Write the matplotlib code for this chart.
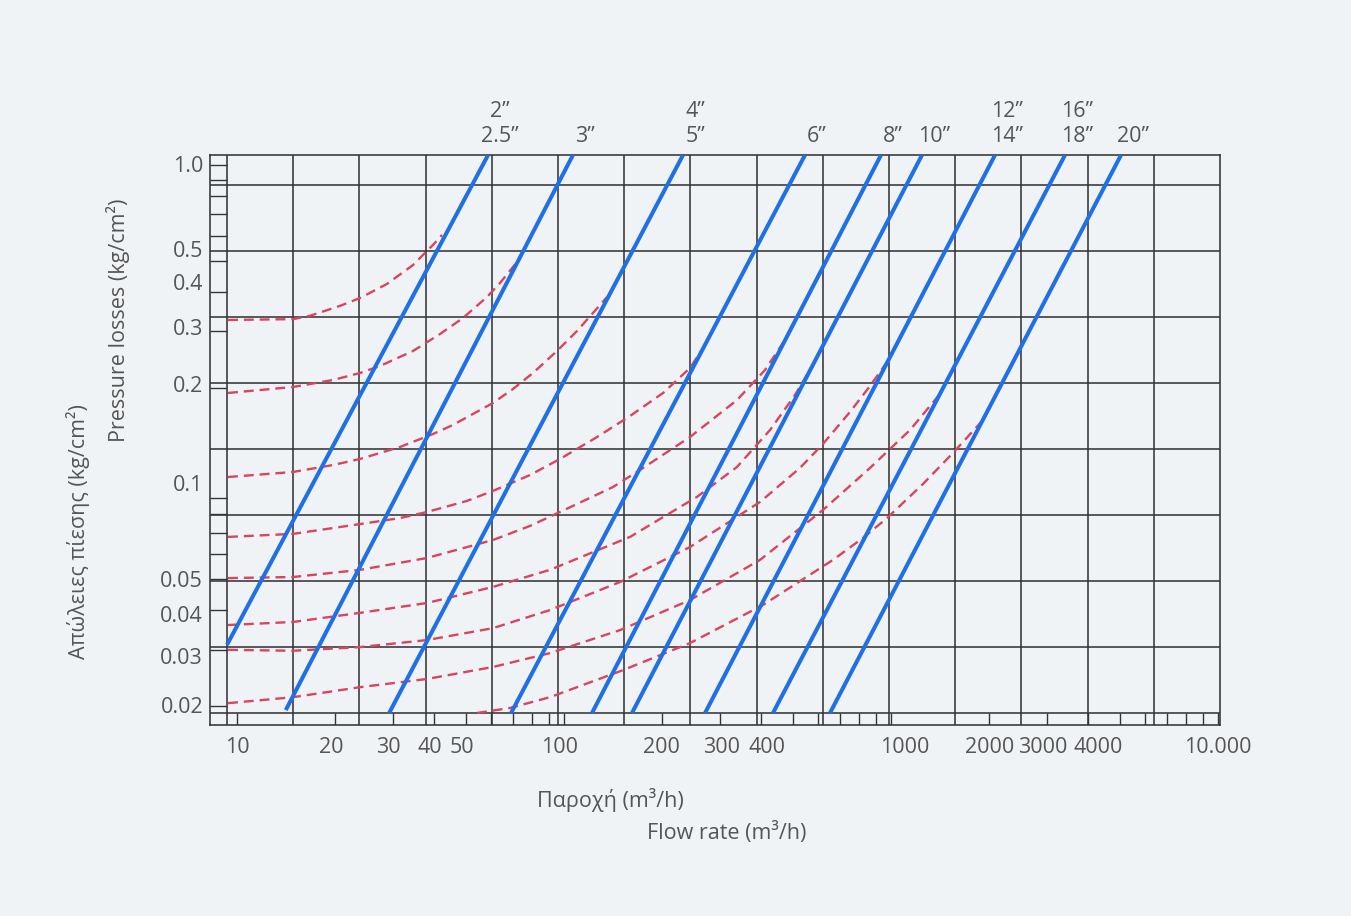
import numpy as np
import matplotlib
matplotlib.use("Agg")
import matplotlib.pyplot as plt

plt.rcParams['font.family'] = ['Open Sans', 'DejaVu Sans']

# pipe diameter lines (flow m3/h, pressure loss kg/cm2) at both ends
pipe_labels = ['2\u201d\n2.5\u201d', '3\u201d', '4\u201d\n5\u201d', '6\u201d', '8\u201d',
               '10\u201d', '12\u201d\n14\u201d', '16\u201d\n18\u201d', '20\u201d']
pipe_q_lo = [9.32, 14.1, 29.2, 68.9, 121.8, 161.4, 270, 435.6, 650.7]
pipe_p_lo = [0.0311, 0.0194, 0.019, 0.019, 0.019, 0.019, 0.019, 0.019, 0.019]
pipe_q_hi = [58.6, 106.5, 231.2, 545.8, 932, 1244, 2080, 3405, 5051]
pipe_p_hi = [1.075, 1.075, 1.075, 1.075, 1.075, 1.075, 1.075, 1.075, 1.075]

# dashed system curves
curve_q = [
    [9.39, 14.84, 16.72, 20.65, 23.78, 28.75, 34.53, 39.76, 42.37],
    [9.39, 14.84, 19.66, 23.78, 27.37, 34.53, 41.77, 49.11, 58.15, 63.74, 71.82, 73.87],
    [9.39, 14.84, 19.66, 23.78, 31.51, 39.76, 45.77, 60.66, 69.82, 80.38, 95.2, 109.6, 128.9, 135.4],
    [9.39, 14.84, 23.78, 31.51, 38.11, 50.51, 60.66, 78.7, 97.2, 126.2, 159.2, 200.9, 242.8, 264.2],
    [9.39, 14.84, 23.78, 38.11, 60.66, 78.7, 97.2, 141.2, 170.8, 242.8, 338.1, 411.9, 467.5],
    [9.39, 14.84, 23.78, 38.11, 60.66, 90.6, 159.2, 255.1, 338.1, 426.6, 508.6, 569.4],
    [9.39, 14.84, 23.78, 38.11, 60.66, 90.6, 148.4, 242.8, 397.6, 526.8, 619.4, 749.1, 862.6, 972.3],
    [9.39, 14.84, 23.78, 38.11, 60.66, 90.6, 148.4, 242.8, 397.6, 619.4, 862.6, 1143, 1412],
    [54.19, 68.37, 90.6, 151.5, 242.8, 406.1, 664.6, 821.1, 972.3, 1253, 1547, 1911],
]
curve_p = [
    [0.326, 0.328, 0.336, 0.361, 0.382, 0.423, 0.485, 0.561, 0.603],
    [0.1923, 0.2008, 0.2112, 0.2222, 0.2337, 0.2605, 0.2945, 0.3307, 0.385, 0.426, 0.4958, 0.5179],
    [0.1047, 0.1086, 0.1142, 0.1193, 0.1301, 0.1429, 0.1526, 0.1789, 0.1979, 0.2222, 0.2605, 0.3011, 0.3633, 0.385],
    [0.0679, 0.0694, 0.0745, 0.0778, 0.0813, 0.0881, 0.0947, 0.1062, 0.1193, 0.1398, 0.1628, 0.1923, 0.2304, 0.2624],
    [0.0504, 0.0508, 0.0535, 0.0583, 0.0664, 0.0735, 0.0813, 0.0974, 0.1102, 0.1398, 0.1827, 0.2271, 0.2761],
    [0.0359, 0.0367, 0.0392, 0.0421, 0.0473, 0.0535, 0.0679, 0.0907, 0.1126, 0.1471, 0.1895, 0.2304],
    [0.0300, 0.0298, 0.0306, 0.0322, 0.0351, 0.0400, 0.0490, 0.0631, 0.0874, 0.1118, 0.1330, 0.1676, 0.2022, 0.2406],
    [0.0204, 0.0213, 0.0229, 0.0243, 0.0265, 0.0293, 0.0346, 0.0430, 0.0575, 0.0825, 0.1118, 0.1471, 0.1909],
    [0.0190, 0.0197, 0.0213, 0.0259, 0.0315, 0.0415, 0.0575, 0.0674, 0.0778, 0.0996, 0.1246, 0.1581],
]

xticks = [10, 20, 30, 40, 50, 100, 200, 300, 400, 1000, 2000, 3000, 4000, 10000]
xtick_labels = ['10', '20', '30', '40', '50', '100', '200', '300', '400',
                '1000', '2000', '3000', '4000', '10.000']
yticks = [1.0, 0.5, 0.4, 0.3, 0.2, 0.1, 0.05, 0.04, 0.03, 0.02]
ytick_labels = ['1.0', '0.5', '0.4', '0.3', '0.2', '0.1', '0.05', '0.04', '0.03', '0.02']

# label nudges in pixels (the printed scale is hand lettered)
x_nudge = [0, -4, -5, -4, -4, -4, -1, 2, 6, 14, 0, -4, 10, 0]
y_nudge = [0, 11, 9, 4, 3, 0, 0, -4, -7, 0]

bg = '#f0f3f6'
ink = '#353535'
txt = '#555555'
fs = 15.5

fig = plt.figure(figsize=(13.51, 9.16), dpi=100, facecolor=bg)
ax = fig.add_axes([210 / 1351, 1 - 725 / 916, 1010 / 1351, 570 / 916])
ax.set_facecolor(bg)
ax.set_xscale('log')
ax.set_yscale('log')
x0, x1 = 8.27, 10140
y0, y1 = 0.01742, 1.075
ax.set_xlim(x0, x1)
ax.set_ylim(y0, y1)

# inner grid edges (left strip / bottom strip)
qg0, pg0 = 9.32, 0.019
for q in np.geomspace(qg0, x1, 16)[:-1]:
    ax.axvline(q, color=ink, lw=1.15, zorder=1)
for p in pg0 * 10 ** (0.2073 * np.arange(9)):
    ax.axhline(p, color=ink, lw=1.15, zorder=1)

# small scale ticks inside the strips
ystrip = [k * 10.0 ** n for n in (-2, -1) for k in range(2, 10)] + [1.0]
ax.hlines(ystrip, x0, qg0, color=ink, lw=1.0, zorder=1)
xstrip = [k * 10.0 ** n for n in (1, 2, 3) for k in range(1, 10)] + [10000]
xstrip = [q for q in xstrip if q > qg0]
ax.vlines(xstrip, y0, pg0, color=ink, lw=1.0, zorder=1)

for q, p in zip(curve_q, curve_p):
    ax.plot(q, p, color='#d9445f', lw=1.7, dashes=(4.2, 2.5), zorder=2)

for lab, qa, pa, qb, pb in zip(pipe_labels, pipe_q_lo, pipe_p_lo, pipe_q_hi, pipe_p_hi):
    ax.plot([qa, qb], [pa, pb], color='#1f6fe6', lw=2.9, solid_capstyle='butt', zorder=3)
    ax.annotate(lab, xy=(qb, y1), xytext=(12, 8), textcoords='offset pixels',
                ha='center', va='bottom', fontsize=fs, color=txt, linespacing=1.22,
                annotation_clip=False)

for s in ax.spines.values():
    s.set_color(ink)
    s.set_linewidth(1.15)

ax.set_xticks([])
ax.set_yticks([])
ax.minorticks_off()
for v, lab, dx in zip(xticks, xtick_labels, x_nudge):
    ax.annotate(lab, xy=(v, y0), xytext=(dx, -12), textcoords='offset pixels',
                ha='center', va='top', fontsize=fs, color=txt, annotation_clip=False)
for v, lab, dy in zip(yticks, ytick_labels, y_nudge):
    ax.annotate(lab, xy=(x0, v), xytext=(-7, dy - 2), textcoords='offset pixels',
                ha='right', va='center', fontsize=fs, color=txt, annotation_clip=False)

fig.text(78 / 1351, 1 - 532 / 916, 'Απώλειες πίεσης (kg/cm²)', rotation=90,
         ha='center', va='center', fontsize=fs, color=txt)
fig.text(118 / 1351, 1 - 320 / 916, 'Pressure losses (kg/cm²)', rotation=90,
         ha='center', va='center', fontsize=fs, color=txt)
fig.text(610 / 1351, 1 - 800 / 916, 'Παροχή (m³/h)', ha='center', va='center',
         fontsize=fs, color=txt)
fig.text(727 / 1351, 1 - 833 / 916, 'Flow rate (m³/h)', ha='center', va='center',
         fontsize=fs, color=txt)

fig.savefig('out.png', dpi=100, facecolor=bg)
